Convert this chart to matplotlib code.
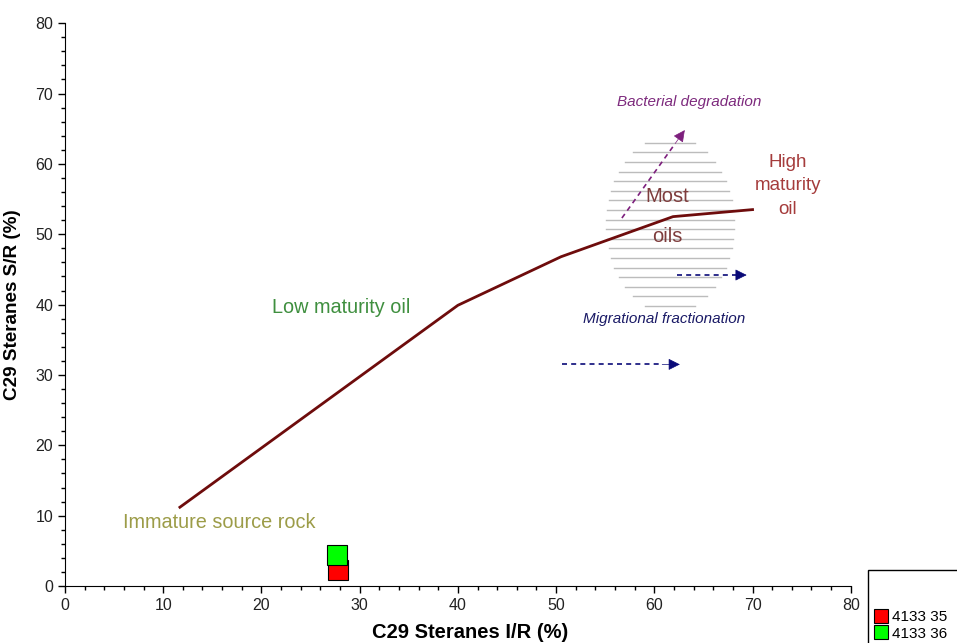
import numpy as np
import matplotlib
matplotlib.use('Agg')
import matplotlib.pyplot as plt
from matplotlib.patches import Rectangle
from matplotlib.ticker import MultipleLocator

### DATA ###
# maturity trend line (I/R %, S/R %)
trend_x = [11.7, 40.0, 50.5, 61.9, 70.0]
trend_y = [11.2, 39.9, 46.8, 52.5, 53.5]

# samples
sample_names = ['4133 35', '4133 36']
sample_x = [27.8, 27.7]
sample_y = [2.3, 4.4]
sample_colors = ['#ff0000', '#00ff00']

# "most oils" field (ellipse made of horizontal lines)
field_cx, field_cy = 61.6, 51.4
field_a, field_b = 6.5, 12.6
field_nlines = 18
field_ytop, field_ybot = 63.0, 39.8

plt.rcParams['font.family'] = ['Liberation Sans', 'DejaVu Sans']

fig = plt.figure(figsize=(9.57, 6.43), dpi=100)
ax = fig.add_axes([0.0679, 0.0886, 0.889 - 0.0679, 0.964 - 0.0886])

#Hatched field
for yy in np.linspace(field_ybot, field_ytop, field_nlines):
    hw = field_a * np.sqrt(max(0.0, 1 - ((yy - field_cy) / field_b) ** 2))
    ax.plot([field_cx - hw, field_cx + hw], [yy, yy], color='#bcbcbc', lw=1, zorder=1)

#Trend line
ax.plot(trend_x, trend_y, color='#6e0c0c', lw=2, zorder=3)

#Samples (red drawn first, green on top)
handles = []
for name, x, y, c in zip(sample_names, sample_x, sample_y, sample_colors):
    h, = ax.plot(x, y, marker='s', ms=14, mfc=c, mec='black', mew=0.8,
                 linestyle='none', label=name, zorder=4, clip_on=False)
    handles.append(h)

#Arrows: dashed shaft + solid head
def dashed_arrow(x0, y0, x1, y1, color):
    xm, ym = x0 + 0.85 * (x1 - x0), y0 + 0.85 * (y1 - y0)
    ax.plot([x0, xm], [y0, ym], color=color, lw=1.2, linestyle=(0, (3, 2.5)), zorder=3)
    ax.annotate('', xy=(x1, y1), xytext=(xm, ym),
                arrowprops=dict(arrowstyle='-|>', color=color, lw=0.5, mutation_scale=18,
                                shrinkA=0, shrinkB=0),
                zorder=3)

dashed_arrow(56.7, 52.3, 63.1, 64.8, '#7d1f7d')
dashed_arrow(62.3, 44.2, 69.4, 44.2, '#0a0a78')
dashed_arrow(50.6, 31.5, 62.6, 31.5, '#0a0a78')

#Annotations
ax.text(28.1, 39.6, 'Low maturity oil', color='#3f8f3f', fontsize=14.3, ha='center', va='center')
ax.text(15.7, 9.1, 'Immature source rock', color='#9c9c48', fontsize=14.3, ha='center', va='center')
ax.text(73.6, 56.9, 'High\nmaturity\noil', color='#a53c3c', fontsize=13.5, ha='center',
        va='center', linespacing=1.5)
ax.text(61.3, 55.3, 'Most', color='#7e3c3c', fontsize=14.5, ha='center', va='center', zorder=5)
ax.text(61.3, 49.7, 'oils', color='#7e3c3c', fontsize=14.5, ha='center', va='center', zorder=5)
ax.text(63.6, 68.8, 'Bacterial degradation', color='#7d2a7d', fontsize=11, style='italic',
        ha='center', va='center')
ax.text(61.0, 37.9, 'Migrational fractionation', color='#1a1a66', fontsize=11, style='italic',
        ha='center', va='center')

#Axes styling
ax.set_xlim(0, 80)
ax.set_ylim(0, 80)
ax.xaxis.set_major_locator(MultipleLocator(10))
ax.yaxis.set_major_locator(MultipleLocator(10))
ax.xaxis.set_minor_locator(MultipleLocator(2))
ax.yaxis.set_minor_locator(MultipleLocator(2))
ax.spines['top'].set_visible(False)
ax.spines['right'].set_visible(False)
ax.tick_params(which='major', length=5, width=1, direction='out', labelsize=11.5, labelcolor='#222222')
ax.tick_params(which='minor', length=3, width=1, direction='out')
ax.set_xlabel('C29 Steranes I/R (%)', fontsize=14.5, fontweight='bold')
ax.xaxis.set_label_coords(0.515, -0.066)
ax.set_ylabel('C29 Steranes S/R (%)', fontsize=13.6, fontweight='bold', labelpad=10)

#Legend box runs past the figure edge, as in the original
fig.add_artist(Rectangle((868 / 957, -0.2), 0.3, 0.2 + 0.1135, transform=fig.transFigure,
                         facecolor='white', edgecolor='black', lw=1))
leg = fig.legend(handles=handles, loc='upper left', bbox_to_anchor=(0.907, 0.1182),
                 borderaxespad=0, fontsize=11, frameon=False,
                 handlelength=0.9, handletextpad=0.25,
                 labelspacing=0.15, markerscale=0.7, title=' ', title_fontsize=26,
                 borderpad=0.4)

fig.savefig('out.png', dpi=100)
